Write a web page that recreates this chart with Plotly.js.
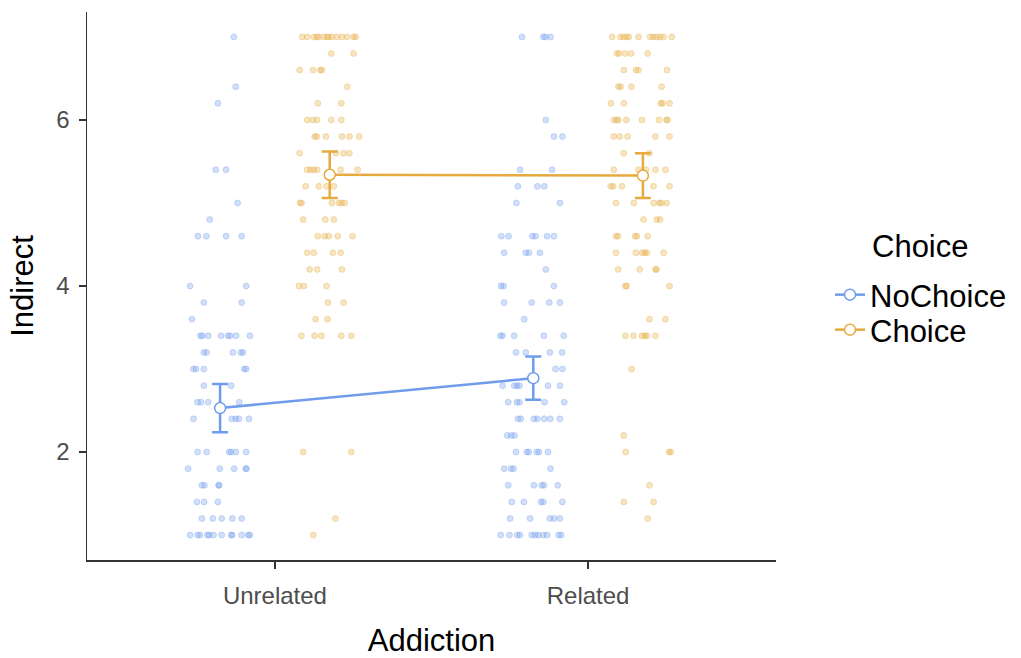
<!DOCTYPE html>
<html>
<head>
<meta charset="utf-8">
<script src="https://cdn.plot.ly/plotly-3.0.1.min.js"></script>
<style>
  html, body { margin: 0; padding: 0; background: #ffffff; }
  #chart { width: 1021px; height: 658px; }
</style>
</head>
<body>
<div id="chart"></div>
<script>
// Category levels
const addiction = ['Unrelated', 'Related'];
const choiceLevels = ['NoChoice', 'Choice'];

// Group means and 95% CI half-widths (Unrelated, Related)
const meanNoChoice = [2.53, 2.89];
const ciNoChoice = [0.29, 0.26];
const meanChoice = [5.34, 5.33];
const ciChoice = [0.28, 0.27];

// Individual Indirect scores with their horizontal jitter (category units)
const indirectNoChoiceUnrelated = [
  7.0, 6.4, 6.2, 5.4, 5.4, 5.0, 4.8,
  4.6, 4.6, 4.6, 4.6, 4.0, 4.0, 3.8, 3.8, 3.6,
  3.4, 3.4, 3.4, 3.4, 3.4, 3.4, 3.4, 3.4,
  3.2, 3.2, 3.2, 3.2, 3.2,
  3.0, 3.0, 3.0, 3.0, 3.0,
  2.8, 2.8, 2.6, 2.6, 2.6, 2.6,
  2.4, 2.4, 2.4, 2.4, 2.4,
  2.0, 2.0, 2.0, 2.0, 2.0, 2.0,
  1.8, 1.8, 1.8, 1.8, 1.8,
  1.6, 1.6, 1.6, 1.6, 1.4, 1.4, 1.4,
  1.2, 1.2, 1.2, 1.2, 1.2,
  1.0, 1.0, 1.0, 1.0, 1.0, 1.0, 1.0, 1.0, 1.0, 1.0, 1.0, 1.0
];
const jitterNoChoiceUnrelated = [
  0.044, 0.050, -0.007, -0.014, 0.019, 0.056, -0.033,
  -0.071, -0.044, 0.019, 0.069, -0.096, 0.083, -0.052, 0.069, -0.090,
  -0.063, -0.057, -0.038, 0.003, 0.025, 0.032, 0.051, 0.095,
  -0.052, -0.043, 0.041, 0.066, 0.073,
  -0.085, -0.077, -0.052, 0.077, 0.083,
  -0.052, 0.035, -0.072, -0.061, -0.038, 0.061,
  -0.085, 0.037, 0.050, 0.060, 0.092,
  -0.072, -0.043, 0.029, 0.035, 0.050, 0.083,
  -0.102, -0.001, 0.045, 0.082, 0.084,
  -0.058, -0.050, -0.005, -0.003, -0.074, -0.051, -0.007,
  -0.058, -0.023, 0.005, 0.039, 0.069,
  -0.096, -0.072, -0.064, -0.040, -0.035, -0.021, 0.005, 0.036, 0.038, 0.069, 0.090, 0.095
];

const indirectChoiceUnrelated = [
  7.0, 7.0, 7.0, 7.0, 7.0, 7.0, 7.0, 7.0, 7.0, 7.0, 7.0, 7.0, 7.0, 7.0,
  6.8, 6.8, 6.6, 6.6, 6.6, 6.6, 6.4, 6.2, 6.2,
  6.0, 6.0, 6.0, 6.0, 6.0,
  5.8, 5.8, 5.8, 5.8, 5.8, 5.8,
  5.6, 5.6, 5.6, 5.6,
  5.4, 5.4, 5.4, 5.4, 5.4, 5.4,
  5.2, 5.2, 5.2, 5.2,
  5.0, 5.0, 5.0, 5.0, 5.0, 5.0,
  4.8, 4.8, 4.8,
  4.6, 4.6, 4.6, 4.6, 4.6,
  4.4, 4.4, 4.4, 4.4, 4.2, 4.2, 4.2,
  4.0, 4.0, 4.0, 3.8, 3.8, 3.6, 3.6,
  3.4, 3.4, 3.4, 3.4, 3.4,
  2.0, 2.0, 1.2, 1.0
];
const jitterChoiceUnrelated = [
  -0.088, -0.072, -0.051, -0.041, -0.035, -0.019, -0.009, -0.003, 0.007, 0.023, 0.039, 0.055, 0.076, 0.083,
  0.005, 0.076, -0.096, -0.053, -0.030, -0.025, 0.056, -0.038, 0.037,
  -0.072, -0.054, -0.041, 0.005, 0.037,
  -0.048, -0.041, -0.012, 0.039, 0.063, 0.094,
  -0.096, 0.020, 0.044, 0.063,
  -0.072, -0.061, -0.051, -0.040, 0.035, 0.089,
  -0.077, -0.035, -0.010, 0.013,
  -0.095, -0.090, 0.007, 0.029, 0.038, 0.048,
  -0.085, -0.014, 0.013,
  -0.038, -0.016, -0.003, 0.026, 0.073,
  -0.072, -0.051, 0.010, 0.035, -0.064, -0.040, 0.039,
  -0.098, -0.083, -0.010, -0.006, 0.044, -0.045, -0.007,
  -0.090, -0.048, -0.026, 0.037, 0.069,
  -0.085, 0.069, 0.018, -0.052
];

const indirectNoChoiceRelated = [
  7.0, 7.0, 7.0, 7.0, 6.0, 5.8, 5.8, 5.4, 5.4,
  5.2, 5.2, 5.2, 5.0, 5.0,
  4.6, 4.6, 4.6, 4.6, 4.6, 4.6,
  4.4, 4.4, 4.4, 4.4, 4.2,
  4.0, 4.0, 4.0, 3.8, 3.8, 3.8, 3.8, 3.6,
  3.4, 3.4, 3.4, 3.4, 3.4,
  3.2, 3.2, 3.2, 3.2, 3.0, 3.0,
  2.8, 2.8, 2.8, 2.8, 2.8, 2.8,
  2.6, 2.6, 2.6, 2.6, 2.6,
  2.4, 2.4, 2.4, 2.4, 2.4, 2.4, 2.4,
  2.2, 2.2, 2.2,
  2.0, 2.0, 2.0, 2.0, 2.0, 2.0,
  1.8, 1.8, 1.8, 1.8,
  1.6, 1.6, 1.6, 1.6, 1.6,
  1.4, 1.4, 1.4, 1.4, 1.4,
  1.2, 1.2, 1.2, 1.2, 1.2,
  1.0, 1.0, 1.0, 1.0, 1.0, 1.0, 1.0, 1.0, 1.0, 1.0, 1.0
];
const jitterNoChoiceRelated = [
  -0.036, 0.032, 0.039, 0.055, 0.040, 0.066, 0.093, -0.042, 0.060,
  -0.049, 0.013, 0.035, -0.054, 0.085,
  -0.102, -0.079, -0.003, 0.007, 0.044, 0.066,
  -0.093, -0.024, -0.014, 0.021, 0.040,
  -0.103, -0.095, 0.066, -0.093, -0.005, 0.051, 0.085, -0.029,
  -0.105, -0.098, -0.061, 0.034, 0.097,
  -0.055, -0.024, 0.053, 0.092, 0.071, 0.093,
  -0.098, -0.061, -0.052, -0.044, 0.047, 0.085,
  -0.080, -0.052, -0.044, 0.036, 0.099,
  -0.049, -0.040, 0.002, 0.013, 0.035, 0.054, 0.085,
  -0.083, -0.070, -0.060,
  -0.055, -0.021, -0.014, 0.011, 0.018, 0.047,
  -0.093, -0.071, -0.063, 0.055,
  -0.080, 0.002, 0.027, 0.034, 0.078,
  -0.069, -0.030, 0.025, 0.032, 0.093,
  -0.074, -0.010, 0.053, 0.066, 0.085,
  -0.104, -0.076, -0.051, -0.043, -0.005, 0.006, 0.016, 0.032, 0.044, 0.081, 0.089
];

const indirectChoiceRelated = [
  7.0, 7.0, 7.0, 7.0, 7.0, 7.0, 7.0, 7.0, 7.0, 7.0, 7.0, 7.0,
  6.8, 6.8, 6.8, 6.8, 6.8,
  6.6, 6.6, 6.6, 6.6,
  6.4, 6.4, 6.4, 6.4,
  6.2, 6.2, 6.2, 6.2, 6.2,
  6.0, 6.0, 6.0, 6.0, 6.0, 6.0, 6.0, 6.0,
  5.8, 5.8, 5.8, 5.8, 5.8,
  5.6, 5.6,
  5.4, 5.4, 5.4, 5.4, 5.4,
  5.2, 5.2, 5.2, 5.2, 5.2,
  5.0, 5.0, 5.0, 5.0, 5.0, 5.0,
  4.8, 4.8, 4.8,
  4.6, 4.6, 4.6, 4.6, 4.6,
  4.4, 4.4, 4.4, 4.4, 4.4, 4.4,
  4.2, 4.2, 4.2, 4.2,
  4.0, 4.0, 4.0,
  3.6, 3.6,
  3.4, 3.4, 3.4, 3.4, 3.4, 3.4,
  3.0, 2.2, 2.0, 2.0, 2.0,
  1.6, 1.4, 1.4, 1.2
];
const jitterChoiceRelated = [
  -0.098, -0.072, -0.062, -0.052, -0.045, -0.014, 0.023, 0.033, 0.044, 0.054, 0.066, 0.092,
  -0.083, -0.076, -0.056, -0.037, 0.015,
  -0.061, -0.022, -0.014, 0.077,
  -0.078, -0.071, -0.037, 0.060,
  -0.102, -0.061, 0.057, 0.063, 0.085,
  -0.093, -0.084, -0.078, -0.053, -0.003, 0.051, 0.075, 0.079,
  -0.093, -0.074, -0.049, 0.040, 0.085,
  -0.061, 0.021,
  -0.093, -0.014, 0.010, 0.040, 0.072,
  -0.103, -0.095, -0.067, 0.034, 0.085,
  -0.086, -0.029, 0.034, 0.052, 0.059, 0.076,
  0.002, 0.044, 0.055,
  -0.086, -0.079, -0.025, -0.019, 0.015,
  -0.086, -0.022, -0.002, 0.006, 0.013, 0.066,
  -0.079, -0.010, 0.040, 0.044,
  -0.056, -0.052, 0.085,
  0.021, 0.072,
  -0.056, -0.030, -0.003, 0.006, 0.013, 0.040,
  -0.036, -0.061, -0.055, 0.084, 0.089,
  0.021, -0.061, 0.034, 0.015
];

// Colours per Choice level
const colNoChoice = '#6F9CEB';
const colChoice = '#E6AA3E';
const fadeNoChoice = 'rgba(111,156,235,0.32)';
const fadeChoice = 'rgba(230,170,62,0.32)';

// Side-by-side dodge of the two Choice levels within each Addiction category
const dodge = 0.175;
const catPos = addiction.map((_, i) => i + 1);

function rawPoints(values, jitter, catIndex, offset, fade) {
  return {
    type: 'scatter',
    mode: 'markers',
    x: values.map((_, i) => catPos[catIndex] + offset + jitter[i]),
    y: values,
    showlegend: false,
    hoverinfo: 'y',
    marker: { size: 6, color: fade, line: { color: fade, width: 1 } }
  };
}

function meanTrace(name, means, ci, offset, col, legendId) {
  return {
    type: 'scatter',
    mode: 'lines+markers',
    name: name,
    legend: legendId,
    x: catPos.map(p => p + offset),
    y: means,
    line: { color: col, width: 2.5 },
    marker: { size: 11, color: '#ffffff', line: { color: col, width: 1.5 } },
    error_y: { type: 'data', array: ci, visible: true, color: col, thickness: 2.5, width: 8 }
  };
}

const traces = [
  rawPoints(indirectNoChoiceUnrelated, jitterNoChoiceUnrelated, 0, -dodge, fadeNoChoice),
  rawPoints(indirectNoChoiceRelated, jitterNoChoiceRelated, 1, -dodge, fadeNoChoice),
  rawPoints(indirectChoiceUnrelated, jitterChoiceUnrelated, 0, dodge, fadeChoice),
  rawPoints(indirectChoiceRelated, jitterChoiceRelated, 1, dodge, fadeChoice),
  meanTrace(choiceLevels[0], meanNoChoice, ciNoChoice, -dodge, colNoChoice, 'legend'),
  meanTrace(choiceLevels[1], meanChoice, ciChoice, dodge, colChoice, 'legend2')
];

const fontFamily = '"Liberation Sans", Arial, sans-serif';
const axisCommon = {
  showline: true,
  linecolor: '#333333',
  linewidth: 1.5,
  ticks: 'outside',
  ticklen: 7,
  tickwidth: 1.5,
  tickcolor: '#333333',
  tickfont: { family: fontFamily, size: 24, color: '#4D4D4D' },
  showgrid: false,
  zeroline: false,
  mirror: false
};

const W = 1021, H = 658;
const legendFont = { family: fontFamily, size: 31, color: '#000000' };
function legendAt(left, centreY) {
  return {
    xref: 'container', yref: 'container',
    x: left / W, xanchor: 'left',
    y: 1 - centreY / H, yanchor: 'middle',
    font: legendFont,
    bgcolor: 'rgba(0,0,0,0)'
  };
}

const layout = {
  width: W,
  height: H,
  margin: { l: 87, r: 245, t: 12, b: 98 },
  paper_bgcolor: '#ffffff',
  plot_bgcolor: '#ffffff',
  font: { family: fontFamily, color: '#000000' },
  xaxis: Object.assign({}, axisCommon, {
    range: [0.4, 2.6],
    tickvals: catPos,
    ticktext: addiction,
    ticklabelstandoff: 7,
    title: { text: 'Addiction', font: { family: fontFamily, size: 31, color: '#000000' }, standoff: 21 }
  }),
  yaxis: Object.assign({}, axisCommon, {
    range: [0.7, 7.3],
    tickvals: [2, 4, 6],
    ticklabelstandoff: 4,
    title: { text: 'Indirect', font: { family: fontFamily, size: 31, color: '#000000' }, standoff: 13 }
  }),
  legend: legendAt(830, 295),
  legend2: legendAt(830, 330),
  annotations: [{
    xref: 'paper', yref: 'paper',
    x: (870 - 87) / 689, y: (560 - 247) / 548,
    xanchor: 'left', yanchor: 'middle',
    text: 'Choice',
    showarrow: false,
    font: legendFont
  }]
};

Plotly.newPlot('chart', traces, layout, { displayModeBar: false, staticPlot: true });
</script>
</body>
</html>
